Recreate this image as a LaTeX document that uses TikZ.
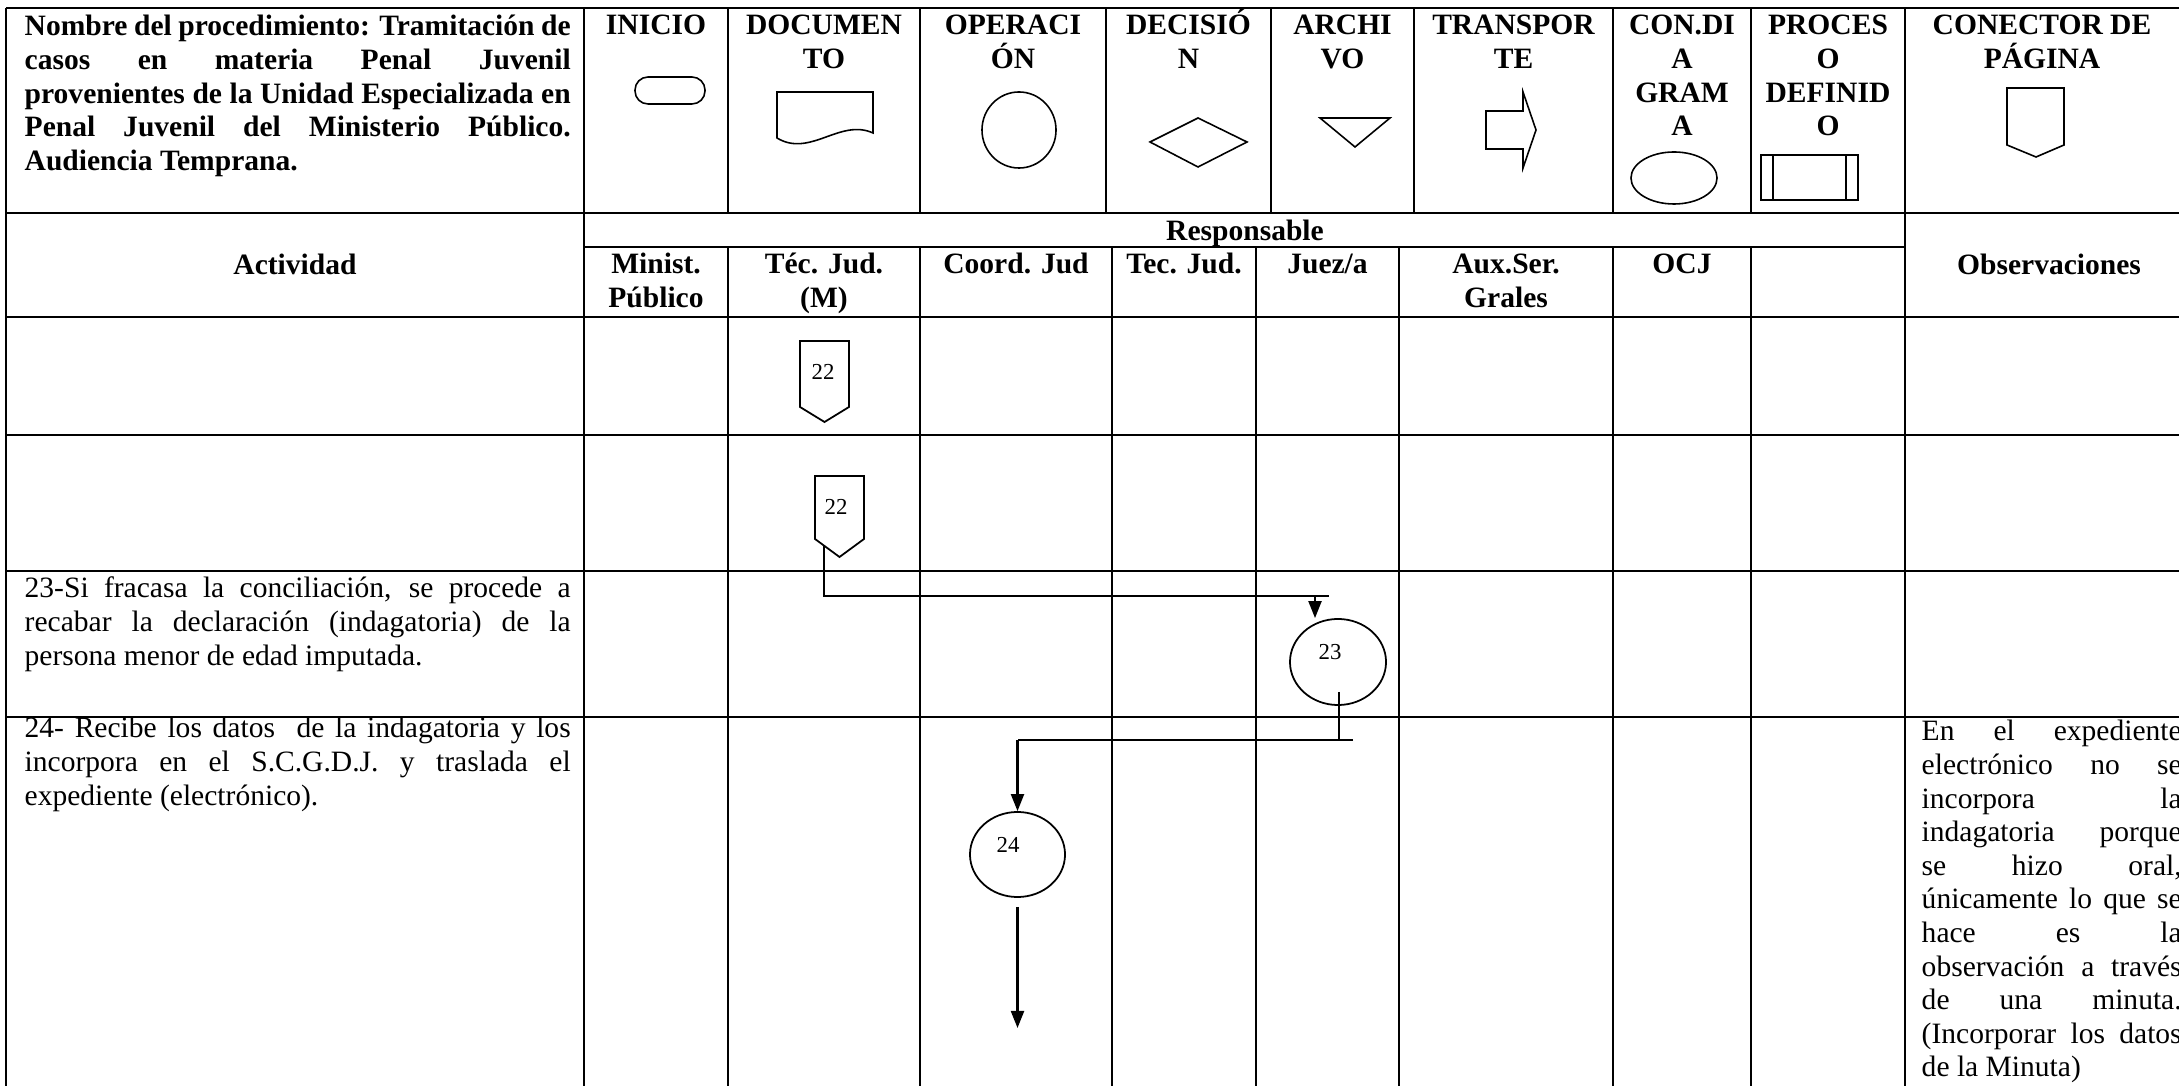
\documentclass[tikz,border=0pt]{standalone}
\usepackage{fontspec}
\setmainfont{Liberation Serif}
\usetikzlibrary{arrows.meta,shapes.geometric}
\newlength\px \setlength\px{0.01cm}
\newcommand\txtfont{\fontsize{8.4pt}{9.55pt}\selectfont}
\newcommand\lblfont{\fontsize{6.5pt}{7.5pt}\selectfont}
\newcommand\jl[1]{\makebox[\linewidth][s]{#1}}
\begin{document}
\begin{tikzpicture}[x=0.01cm,y=-0.01cm,
  hl/.style={line width=0.8pt},
  vl/.style={line width=0.6pt},
  sym/.style={line width=0.45pt},
  conn/.style={line width=0.6pt},
  arr/.style={conn,-{Triangle[length=0.17cm,width=0.13cm]}},
  circ/.style={draw,ellipse,line width=0.5pt,inner sep=0pt},
  lbl/.style={inner sep=0pt,anchor=base,font=\lblfont},
  txt/.style={inner sep=0pt,anchor=base west,font=\txtfont},
  hdr/.style={inner sep=0pt,anchor=base,font=\txtfont\bfseries}]
\useasboundingbox (0,0) rectangle (2179,1086);
\clip (0,0) rectangle (2179,1086);
% ---------- table grid ----------
\foreach \yy in {8,213,317,435,571,717} \draw[hl] (6,\yy) -- (2210,\yy);
\draw[hl] (584,247) -- (1905,247);
\foreach \xx in {6,584,1905} \draw[vl] (\xx,8) -- (\xx,1090);
\foreach \xx in {728,920,1106,1271,1414,1613,1751} \draw[vl] (\xx,8) -- (\xx,213);
\foreach \xx in {728,920,1112,1256,1399,1613,1751} \draw[vl] (\xx,247) -- (\xx,1090);
% ---------- header title ----------
\node[txt,font=\txtfont\bfseries] (title) at (24,36) {\parbox[t]{546\px}{%
\jl{Nombre del procedimiento: Tramitación de}\\
\jl{casos en materia Penal Juvenil}\\
\jl{provenientes de la Unidad Especializada en}\\
\jl{Penal Juvenil del Ministerio Público.}\\
Audiencia Temprana.}};
% ---------- symbol headers ----------
\node[hdr] (hIni) at (656,35) {\parbox[t]{140\px}{\centering INICIO}};
\node[hdr] (hDoc) at (824,35) {\parbox[t]{188\px}{\centering DOCUMEN\\TO}};
\node[hdr] (hOpe) at (1013,35) {\parbox[t]{182\px}{\centering OPERACI\\ÓN}};
\node[hdr] (hDec) at (1188.5,35) {\parbox[t]{161\px}{\centering DECISIÓ\\N}};
\node[hdr] (hArc) at (1342.5,35) {\parbox[t]{139\px}{\centering ARCHI\\VO}};
\node[hdr] (hTra) at (1513.5,35) {\parbox[t]{195\px}{\centering TRANSPOR\\TE}};
\node[hdr] (hCon) at (1682,35) {\parbox[t]{134\px}{\centering CON.DI\\A\\GRAM\\A}};
\node[hdr] (hPro) at (1828,35) {\parbox[t]{150\px}{\centering PROCES\\O\\DEFINID\\O}};
\node[hdr] (hCnp) at (2042,35) {\parbox[t]{260\px}{\centering CONECTOR DE\\PÁGINA}};
% symbols
\draw[sym,rounded corners=0.13cm] (635,77) rectangle (705,104);
\draw[sym] (777,138) -- (777,92) -- (873,92) -- (873,133)
  .. controls (840,118) and (810,158) .. (777,138) -- cycle;
\node[circ,line width=0.45pt,minimum width=0.74cm,minimum height=0.76cm] (sOpe) at (1019,130) {};
\draw[sym] (1150,142) -- (1198,118) -- (1247,142) -- (1198,167) -- cycle;
\draw[sym] (1320,118) -- (1390,118) -- (1355,147) -- cycle;
\draw[sym] (1486,111) -- (1523,111) -- (1523,92) -- (1536,130) -- (1523,168)
  -- (1523,149) -- (1486,149) -- cycle;
\node[circ,line width=0.45pt,minimum width=0.86cm,minimum height=0.52cm] (sCon) at (1674,178) {};
\draw[sym] (1761,155) rectangle (1858,200);
\draw[sym] (1773,155) -- (1773,200) (1846,155) -- (1846,200);
\draw[sym] (2007,88) -- (2064,88) -- (2064,145) -- (2036,157) -- (2007,145) -- cycle;
% ---------- second header band ----------
\node[hdr] (hAct) at (295,275) {Actividad};
\node[hdr] (hResp) at (1245,241) {Responsable};
\node[hdr] (hObs) at (2049,275) {Observaciones};
\node[hdr] (rMin) at (656,274) {\parbox[t]{140\px}{\centering Minist.\\Público}};
\node[hdr] (rTec) at (824,274) {\parbox[t]{188\px}{\centering Téc. Jud.\\(M)}};
\node[hdr] (rCoo) at (1016,274) {Coord. Jud};
\node[hdr] (rTe2) at (1184,274) {Tec. Jud.};
\node[hdr] (rJue) at (1327.5,274) {Juez/a};
\node[hdr] (rAux) at (1506,274) {\parbox[t]{210\px}{\centering Aux.Ser.\\Grales}};
\node[hdr] (rOcj) at (1682,274) {OCJ};
% ---------- body texts ----------
\node[txt] (t23) at (24,598) {\parbox[t]{546\px}{%
\jl{23-Si fracasa la conciliación, se procede a}\\
\jl{recabar la declaración (indagatoria) de la}\\
persona menor de edad imputada.}};
\node[txt] (t24) at (24,738) {\parbox[t]{546\px}{%
\jl{24- Recibe los datos\ \ de la indagatoria y los}\\
\jl{incorpora en el S.C.G.D.J. y traslada el}\\
expediente (electrónico).}};
\node[txt] (tObs) at (1921,741) {\parbox[t]{260\px}{%
\jl{En el expediente}\\
\jl{electrónico no se}\\
\jl{incorpora la}\\
\jl{indagatoria porque}\\
\jl{se hizo oral,}\\
\jl{únicamente lo que se}\\
\jl{hace es la}\\
\jl{observación a través}\\
\jl{de una minuta.}\\
\jl{(Incorporar los datos}\\
de la Minuta)}};
% ---------- flow shapes ----------
\draw[sym,line width=0.5pt] (800,341) -- (849,341) -- (849,407) -- (824.5,422) -- (800,407) -- cycle;
\node[lbl] (l22a) at (823,380) {22};
\draw[sym,line width=0.5pt] (815,476) -- (864,476) -- (864,539) -- (839.5,557) -- (815,539) -- cycle;
\node[lbl] (l22b) at (836,515) {22};
\node[circ,minimum width=0.96cm,minimum height=0.86cm] (c23) at (1338,662) {};
\node[lbl] (l23) at (1330,660) {23};
\node[circ,minimum width=0.95cm,minimum height=0.85cm] (c24) at (1017.5,854.5) {};
\node[lbl] (l24) at (1008,853) {24};
% ---------- connectors ----------
\coordinate (p22b) at (824,546);
\coordinate (j1) at (824,596);
\coordinate (j1e) at (1329,596);
\coordinate (a1) at (1315,596);
\draw[conn] (p22b) -- (j1) -- (j1e);
\draw[arr] (a1) -- (a1 |- c23.north);
\coordinate (c23o) at (1339,692);
\coordinate (j2) at (1339,740);
\coordinate (j2e) at (1353,740);
\coordinate (j3) at (1017.5,740);
\draw[conn] (c23o) -- (j2);
\draw[conn] (j2e) -- (j3);
\draw[arr] (j3) -- (c24.north);
\coordinate (c24o) at (1017.5,907);
\coordinate (fin) at (1017.5,1028);
\draw[arr] (c24o) -- (fin);
\end{tikzpicture}
\end{document}
